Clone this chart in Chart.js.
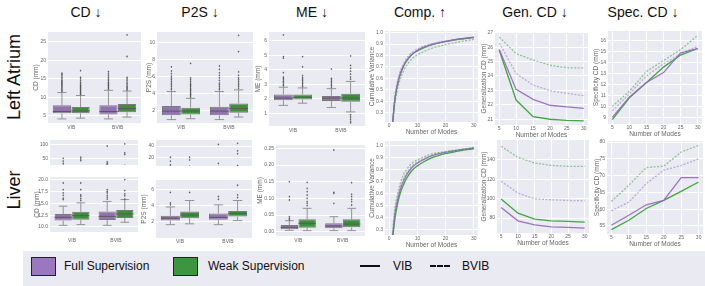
<!DOCTYPE html>
<html>
<head>
<meta charset="utf-8">
<script src="https://cdn.jsdelivr.net/npm/chart.js@4.4.0/dist/chart.umd.min.js"></script>
<style>
  body { margin: 0; width: 705px; height: 286px; overflow: hidden; position: relative; background: #fff;
         font-family: 'Liberation Sans', Arial, sans-serif; }
  canvas { position: absolute; }
  .title { position: absolute; top: 4px; font-size: 14px; transform: translateX(-50%); white-space: nowrap; color: #111; }
  .row { position: absolute; font-size: 18px; transform: translate(-50%, -50%) rotate(-90deg); white-space: nowrap; color: #111; }
  #legend { position: absolute; left: 23px; top: 251px; width: 682px; height: 35px; background: #eaeaf2; }
  #legend .sw { position: absolute; top: 6px; width: 23px; height: 17px; border: 1px solid #222; }
  #legend .lbl { position: absolute; top: 8px; font-size: 12px; color: #111; white-space: nowrap; }
  #legend .ln { position: absolute; top: 14px; width: 20px; border-top: 2px solid #111; }
  #legend .ln.dash { border-top: 2px dashed #111; }
</style>
</head>
<body>
<div class="title" style="left:86px">CD ↓</div>
<div class="title" style="left:200px">P2S ↓</div>
<div class="title" style="left:312px">ME ↓</div>
<div class="title" style="left:420px">Comp. ↑</div>
<div class="title" style="left:535px">Gen. CD ↓</div>
<div class="title" style="left:643px">Spec. CD ↓</div>
<div class="row" style="left:14px;top:77px">Left Atrium</div>
<div class="row" style="left:14px;top:190px">Liver</div>
<div id="legend">
  <div class="sw" style="left:8px;background:#9a78c0"></div><div class="lbl" style="left:41px">Full Supervision</div>
  <div class="sw" style="left:150px;background:#3d963d"></div><div class="lbl" style="left:185px">Weak Supervision</div>
  <div class="ln" style="left:337px"></div><div class="lbl" style="left:370px">VIB</div>
  <div class="ln dash" style="left:407px"></div><div class="lbl" style="left:439px">BVIB</div>
</div>
<script>
// ---- data ----
const boxCats = ['VIB', 'BVIB'];
const modes = [5, 10, 15, 20, 25, 30];
const compModes = [1, 2, 3, 4, 5, 6, 8, 10, 12, 15, 18, 21, 25, 30];

// box stats: [lower whisker, q1, median, q3, upper whisker] for VIB, BVIB
const cdLaFull = [[4.2, 5.7, 6.2, 7.9, 11.3], [4.2, 5.4, 6.2, 7.9, 11.9]];
const cdLaWeak = [[4.4, 5.7, 6.35, 7.4, 10.5], [4.7, 6.0, 7.0, 8.2, 11.7]];
const cdLaFullOut = [[11.6, 11.9, 12.2, 12.5, 12.8, 13.1, 13.4, 13.7, 14.0, 14.3, 14.6, 15.0, 15.4, 15.8, 16.2, 16.5],
                     [12.2, 12.5, 12.8, 13.1, 13.4, 13.8, 14.1, 14.5, 14.9, 15.3, 15.8, 16.3, 16.9]];
const cdLaWeakOut = [[10.8, 11.1, 11.4, 11.7, 12.0, 12.3, 12.6, 12.9, 13.2, 13.6, 14.0, 14.5, 15.0, 15.4, 17.2],
                     [12.0, 12.3, 12.6, 12.9, 13.3, 13.7, 14.1, 14.6, 15.0, 15.4, 21.0, 26.8]];

const p2sLaFull = [[0.9, 1.4, 1.9, 2.5, 4.2], [0.9, 1.4, 1.9, 2.4, 4.2]];
const p2sLaWeak = [[1.0, 1.5, 1.9, 2.3, 3.4], [1.2, 1.7, 2.2, 2.8, 4.4]];
const p2sLaFullOut = [[4.4, 4.6, 4.8, 5.0, 5.2, 5.4, 5.6, 5.8, 6.0, 6.3, 6.6, 7.1],
                      [4.4, 4.6, 4.8, 5.0, 5.2, 5.5, 5.8, 6.1, 6.4, 6.8, 7.2]];
const p2sLaWeakOut = [[3.55, 3.7, 3.85, 4.0, 4.15, 4.3, 4.45, 4.6, 4.75, 4.9, 5.05, 5.2, 5.4, 5.6, 5.8, 7.5],
                      [4.6, 4.8, 5.0, 5.2, 5.4, 5.6, 5.8, 6.1, 6.5, 8.9, 10.8]];

const meLaFull = [[1.55, 1.9, 2.05, 2.3, 2.8], [1.4, 1.85, 2.05, 2.2, 2.7]];
const meLaWeak = [[1.7, 1.95, 2.1, 2.3, 2.75], [1.1, 1.8, 2.05, 2.35, 3.2]];
const meLaFullOut = [[2.9, 3.0, 3.1, 3.2, 3.3, 3.4, 3.5, 3.8, 4.8, 4.9, 6.4],
                     [2.8, 2.9, 3.0, 3.1, 3.2, 3.3, 3.4, 4.05]];
const meLaWeakOut = [[2.85, 2.95, 3.05, 3.15, 3.25, 3.35, 3.45, 3.6, 4.2, 4.9],
                     [3.35, 3.5, 3.7, 3.9, 4.1, 4.3, 4.95, 0.9, 0.75, 0.6, 0.45, 0.35]];

const cdLvFull = [[10.35, 11.35, 12.05, 12.75, 14.4], [10.35, 11.5, 12.25, 13.3, 15.4]];
const cdLvWeak = [[10.5, 11.55, 12.4, 13.2, 15.1], [11.0, 11.9, 12.75, 13.6, 15.8]];
const cdLvFullOut = [[15.8, 16.1, 16.7, 17.2, 17.9, 19.3, 25, 32, 40, 50],
                     [15.9, 16.3, 16.7, 17.2, 17.5, 17.9, 27, 32, 37, 94]];
const cdLvWeakOut = [[15.6, 16.0, 16.5, 16.8, 17.9, 19.3, 42, 48, 54],
                     [15.9, 16.6, 17.0, 17.7, 20.0, 25, 64, 70, 102]];

const p2sLvFull = [[1.6, 2.1, 2.4, 2.7, 3.8], [1.6, 2.2, 2.5, 3.0, 4.06]];
const p2sLvWeak = [[1.7, 2.41, 2.8, 3.24, 4.6], [2.1, 2.6, 3.0, 3.3, 4.6]];
const p2sLvFullOut = [[4.06, 4.3, 5.6, 8.1, 14.3, 21], [4.76, 5.1, 10.5, 42.9]];
const p2sLvWeakOut = [[5.6, 16.4, 21], [4.97, 5.3, 6.5, 27.1, 31.9, 44.8]];

const meLvFull = [[0.004, 0.007, 0.013, 0.02, 0.033], [0.003, 0.01, 0.017, 0.025, 0.045]];
const meLvWeak = [[0.003, 0.012, 0.025, 0.037, 0.07], [0.003, 0.013, 0.023, 0.037, 0.07]];
const meLvFullOut = [[0.036, 0.04, 0.045, 0.095, 0.105, 0.15], [0.085, 0.115, 0.118, 0.245]];
const meLvWeakOut = [[0.078, 0.085, 0.09, 0.1, 0.11, 0.12, 0.13, 0.148], [0.08, 0.09, 0.097, 0.105, 0.112, 0.147]];

// cumulative variance (Comp.)
const compLaVibFull  = [0.15, 0.42, 0.56, 0.645, 0.705, 0.75, 0.81, 0.845, 0.87, 0.895, 0.912, 0.926, 0.942, 0.957];
const compLaVibWeak  = [0.15, 0.41, 0.55, 0.64, 0.70, 0.745, 0.805, 0.84, 0.865, 0.893, 0.912, 0.927, 0.944, 0.96];
const compLaBvibFull = [0.16, 0.44, 0.58, 0.67, 0.725, 0.77, 0.825, 0.857, 0.88, 0.903, 0.918, 0.93, 0.944, 0.955];
const compLaBvibWeak = [0.14, 0.38, 0.51, 0.60, 0.66, 0.705, 0.77, 0.805, 0.832, 0.862, 0.884, 0.90, 0.92, 0.94];
const compLvVibFull  = [0.19, 0.42, 0.55, 0.64, 0.70, 0.75, 0.815, 0.853, 0.88, 0.913, 0.932, 0.946, 0.963, 0.978];
const compLvVibWeak  = [0.18, 0.39, 0.52, 0.61, 0.67, 0.72, 0.79, 0.83, 0.86, 0.897, 0.92, 0.936, 0.955, 0.972];
const compLvBvibFull = [0.20, 0.44, 0.57, 0.66, 0.72, 0.765, 0.83, 0.862, 0.887, 0.918, 0.937, 0.95, 0.965, 0.98];
const compLvBvibWeak = [0.22, 0.48, 0.60, 0.69, 0.755, 0.795, 0.85, 0.88, 0.902, 0.928, 0.942, 0.952, 0.964, 0.978];

// generalization / specificity CD vs number of modes
const genLaVibFull  = [25.83, 23.07, 22.38, 21.97, 21.85, 21.76];
const genLaVibWeak  = [25.78, 22.33, 21.18, 21.0, 20.92, 20.89];
const genLaBvibFull = [26.29, 24.17, 23.37, 22.98, 22.8, 22.63];
const genLaBvibWeak = [26.7, 25.55, 25.1, 24.75, 24.56, 24.56];
const specLaVibFull  = [9.0, 10.85, 12.2, 13.1, 14.9, 15.3];
const specLaVibWeak  = [8.8, 10.8, 12.2, 13.6, 14.7, 15.3];
const specLaBvibFull = [9.6, 11.15, 12.8, 13.9, 14.8, 15.5];
const specLaBvibWeak = [10.0, 11.4, 13.2, 14.2, 15.2, 16.5];
const genLvVibFull  = [90.9, 77.1, 73.0, 70.9, 70.3, 69.6];
const genLvVibWeak  = [99.5, 85.0, 78.9, 77.1, 76.5, 75.8];
const genLvBvibFull = [117.7, 105.7, 99.8, 98.8, 98.1, 97.7];
const genLvBvibWeak = [153.8, 142.5, 136.6, 134.2, 133.2, 133.2];
const specLvVibFull  = [55.2, 58.2, 61.3, 62.6, 69.4, 69.4];
const specLvVibWeak  = [53.9, 56.7, 60.2, 62.6, 65.3, 68.1];
const specLvBvibFull = [59.5, 62.1, 67.6, 71.6, 73.0, 75.0];
const specLvBvibWeak = [62.3, 67.1, 72.4, 72.8, 77.0, 79.0];

// tick labels
const cdLaTicks = [5, 10, 15, 20, 25];
const p2sLaTicks = [2, 4, 6, 8, 10];
const meLaTicks = [1, 2, 3, 4, 5, 6];
const compYTicks = [0.3, 0.4, 0.5, 0.6, 0.7, 0.8, 0.9, 1.0];
const compXTicks = [0, 10, 20, 30];
const genLaTicks = [21, 22, 23, 24, 25, 26, 27];
const specLaTicks = [9, 10, 11, 12, 13, 14, 15, 16];
const cdLvTopTicks = [50, 100];
const cdLvTicks = [10, 12.5, 15, 17.5, 20];
const p2sLvTopTicks = [20, 40];
const p2sLvTicks = [2, 4, 6];
const meLvTicks = [0, 0.05, 0.1, 0.15, 0.2, 0.25];
const genLvTicks = [80, 100, 120, 140];
const specLvTicks = [55, 60, 65, 70, 75, 80];

// ---- styles ----
const purpleBox = '#9372b2';
const greenBox = '#3b913b';
const purpleLine = 'rgba(148,103,189,0.9)';
const greenLine = 'rgba(44,160,44,0.9)';
const purpleDot = 'rgba(148,103,189,0.5)';
const greenDot = 'rgba(44,160,44,0.5)';
const tickColor = '#666';

const bgPlugin = {
  id: 'bg',
  beforeDraw(chart) {
    const a = chart.chartArea, ctx = chart.ctx;
    ctx.save();
    ctx.fillStyle = '#eaeaf2';
    ctx.fillRect(a.left, a.top, a.right - a.left, a.bottom - a.top);
    ctx.restore();
  }
};

// whiskers, medians and outliers on top of the floating bars
const boxPlugin = {
  id: 'boxes',
  afterDatasetsDraw(chart) {
    const ctx = chart.ctx, a = chart.chartArea, ys = chart.scales.y;
    ctx.save();
    ctx.beginPath();
    ctx.rect(a.left, a.top, a.right - a.left, a.bottom - a.top);
    ctx.clip();
    chart.data.datasets.forEach((ds, di) => {
      chart.getDatasetMeta(di).data.forEach((bar, i) => {
        const [lo, q1, med, q3, hi] = ds.stats[i];
        const x = bar.x, hw = bar.width / 2;
        ctx.strokeStyle = '#939393';
        ctx.lineWidth = 1;
        ctx.beginPath();
        ctx.moveTo(x, ys.getPixelForValue(q3)); ctx.lineTo(x, ys.getPixelForValue(hi));
        ctx.moveTo(x, ys.getPixelForValue(q1)); ctx.lineTo(x, ys.getPixelForValue(lo));
        ctx.moveTo(x - hw / 2, ys.getPixelForValue(hi)); ctx.lineTo(x + hw / 2, ys.getPixelForValue(hi));
        ctx.moveTo(x - hw / 2, ys.getPixelForValue(lo)); ctx.lineTo(x + hw / 2, ys.getPixelForValue(lo));
        ctx.stroke();
        ctx.strokeStyle = '#5a5a5a';
        ctx.beginPath();
        ctx.moveTo(x - hw, ys.getPixelForValue(med)); ctx.lineTo(x + hw, ys.getPixelForValue(med));
        ctx.stroke();
        ctx.fillStyle = 'rgba(60,60,60,0.8)';
        ds.outliers[i].forEach(v => {
          const py = ys.getPixelForValue(v), r = 1.15;
          ctx.beginPath();
          ctx.moveTo(x, py - r); ctx.lineTo(x + r * 0.8, py); ctx.lineTo(x, py + r); ctx.lineTo(x - r * 0.8, py);
          ctx.closePath();
          ctx.fill();
        });
      });
    });
    ctx.restore();
  }
};

function yScale(min, max, ticks, title, dec, yw) {
  return {
    min: min, max: max,
    afterBuildTicks: s => { s.ticks = ticks.map(v => ({ value: v })); },
    afterFit: s => { s.width = yw; },
    ticks: { font: { size: 5 }, color: tickColor, padding: 2, callback: v => Number(v).toFixed(dec) },
    grid: { color: '#fff', lineWidth: 1, drawTicks: false },
    border: { display: false },
    title: { display: !!title, text: title, font: { size: 6.5 }, color: tickColor, padding: 0 }
  };
}

function panel(L, T, R, B, yw, xh, config) {
  const pad = 6;
  const c = document.createElement('canvas');
  c.width = R - L + yw + pad;
  c.height = B - T + xh + pad;
  c.style.left = (L - yw) + 'px';
  c.style.top = (T - pad) + 'px';
  document.body.appendChild(c);
  config.options.layout = { padding: { top: pad, right: pad, left: 0, bottom: 0 } };
  config.options.responsive = false;
  config.options.animation = false;
  config.options.devicePixelRatio = 1;
  config.options.plugins = { legend: { display: false }, tooltip: { enabled: false } };
  new Chart(c, config);
}

function boxPanel(L, T, R, B, yw, xh, xpad, full, weak, fullOut, weakOut, ymin, ymax, ticks, title, dec) {
  panel(L, T, R, B, yw, xh, {
    type: 'bar',
    data: {
      labels: boxCats,
      datasets: [
        { label: 'Full Supervision', data: full.map(s => [s[1], s[3]]), stats: full, outliers: fullOut,
          backgroundColor: purpleBox, borderColor: '#7a7a7a', borderWidth: 1, borderSkipped: false,
          categoryPercentage: 0.8, barPercentage: 0.98 },
        { label: 'Weak Supervision', data: weak.map(s => [s[1], s[3]]), stats: weak, outliers: weakOut,
          backgroundColor: greenBox, borderColor: '#7a7a7a', borderWidth: 1, borderSkipped: false,
          categoryPercentage: 0.8, barPercentage: 0.98 }
      ]
    },
    options: {
      scales: {
        x: {
          afterFit: s => { s.height = xh; },
          ticks: { display: xh > 0, font: { size: 5 }, color: tickColor, padding: xpad },
          grid: { display: false, drawTicks: false },
          border: { display: false }
        },
        y: yScale(ymin, ymax, ticks, title, dec, yw)
      }
    },
    plugins: [bgPlugin, boxPlugin]
  });
}

function linePanel(L, T, R, B, yw, xh, xs, series, xmin, xmax, xticks, ymin, ymax, yticks, ytitle, ydec, smooth) {
  panel(L, T, R, B, yw, xh, {
    type: 'line',
    data: {
      datasets: series.map(s => ({
        data: xs.map((x, i) => ({ x: x, y: s.vals[i] })),
        borderColor: s.color, borderWidth: 1.3, borderDash: s.dash ? [2, 1.5] : [],
        pointRadius: 0, fill: false,
        tension: 0, cubicInterpolationMode: smooth ? 'monotone' : 'default'
      }))
    },
    options: {
      scales: {
        x: {
          type: 'linear', min: xmin, max: xmax,
          afterBuildTicks: s => { s.ticks = xticks.map(v => ({ value: v })); },
          afterFit: s => { s.height = xh; },
          ticks: { font: { size: 5 }, color: tickColor, padding: 1 },
          grid: { color: '#fff', lineWidth: 1, drawTicks: false },
          border: { display: false },
          title: { display: true, text: 'Number of Modes', font: { size: 6.5 }, color: tickColor, padding: 0 }
        },
        y: yScale(ymin, ymax, yticks, ytitle, ydec, yw)
      }
    },
    plugins: [bgPlugin]
  });
}

// ---- Left Atrium row ----
boxPanel(48, 32, 141, 123, 16, 10, 2, cdLaFull, cdLaWeak, cdLaFullOut, cdLaWeakOut, 3.1, 27.6, cdLaTicks, 'CD (mm)', 0);
boxPanel(157, 32, 253, 123, 12, 10, 2, p2sLaFull, p2sLaWeak, p2sLaFullOut, p2sLaWeakOut, 0.5, 11.2, p2sLaTicks, 'P2S (mm)', 0);
boxPanel(269, 32, 365, 126, 15, 10, 2, meLaFull, meLaWeak, meLaFullOut, meLaWeakOut, 0.13, 6.6, meLaTicks, 'ME (mm)', 0);
linePanel(385, 31, 478, 122, 17, 14, compModes, [
  { vals: compLaBvibWeak, color: greenDot, dash: true },
  { vals: compLaBvibFull, color: purpleDot, dash: true },
  { vals: compLaVibFull, color: purpleLine },
  { vals: compLaVibWeak, color: greenLine }
], -1.5, 31.5, compXTicks, 0.218, 1.014, compYTicks, 'Cumulative Variance', 1, true);
linePanel(495, 32, 588, 125, 15, 14, modes, [
  { vals: genLaBvibWeak, color: greenDot, dash: true },
  { vals: genLaBvibFull, color: purpleDot, dash: true },
  { vals: genLaVibFull, color: purpleLine },
  { vals: genLaVibWeak, color: greenLine }
], 3.75, 31.25, modes, 20.6, 27.05, genLaTicks, 'Generalization CD (mm)', 0, false);
linePanel(608, 31, 702, 124, 16, 14, modes, [
  { vals: specLaBvibWeak, color: greenDot, dash: true },
  { vals: specLaBvibFull, color: purpleDot, dash: true },
  { vals: specLaVibFull, color: purpleLine },
  { vals: specLaVibWeak, color: greenLine }
], 3.75, 31.25, modes, 8.4, 16.9, specLaTicks, 'Specificity CD (mm)', 0, false);

// ---- Liver row (CD and P2S use a broken y axis) ----
boxPanel(50, 140, 138, 170, 17, 0, 0, cdLvFull, cdLvWeak, cdLvFullOut, cdLvWeakOut, 26, 116, cdLvTopTicks, '', 0);
boxPanel(50, 177, 138, 232, 17, 14, 6, cdLvFull, cdLvWeak, cdLvFullOut, cdLvWeakOut, 8.94, 20.57, cdLvTicks, 'CD (mm)', 1);
boxPanel(156, 140, 252, 171, 16, 0, 0, p2sLvFull, p2sLvWeak, p2sLvFullOut, p2sLvWeakOut, 6.1, 50.4, p2sLvTopTicks, '', 0);
boxPanel(156, 180, 252, 238, 16, 8, 1, p2sLvFull, p2sLvWeak, p2sLvFullOut, p2sLvWeakOut, -0.06, 7.15, p2sLvTicks, 'P2S (mm)', 0);
boxPanel(276, 145, 365, 236, 20, 10, 2, meLvFull, meLvWeak, meLvFullOut, meLvWeakOut, -0.013, 0.26, meLvTicks, 'ME (mm)', 2);
linePanel(385, 141, 478, 235, 17, 14, compModes, [
  { vals: compLvBvibWeak, color: greenDot, dash: true },
  { vals: compLvBvibFull, color: purpleDot, dash: true },
  { vals: compLvVibFull, color: purpleLine },
  { vals: compLvVibWeak, color: greenLine }
], -1.5, 31.5, compXTicks, 0.258, 1.036, compYTicks, 'Cumulative Variance', 1, true);
linePanel(497, 140, 589, 233, 17, 14, modes, [
  { vals: genLvBvibWeak, color: greenDot, dash: true },
  { vals: genLvBvibFull, color: purpleDot, dash: true },
  { vals: genLvVibFull, color: purpleLine },
  { vals: genLvVibWeak, color: greenLine }
], 3.75, 31.25, modes, 64.6, 160.3, genLvTicks, 'Generalization CD (mm)', 0, false);
linePanel(607, 141, 703, 234, 14, 14, modes, [
  { vals: specLvBvibWeak, color: greenDot, dash: true },
  { vals: specLvBvibFull, color: purpleDot, dash: true },
  { vals: specLvVibFull, color: purpleLine },
  { vals: specLvVibWeak, color: greenLine }
], 3.75, 31.25, modes, 52.6, 80.3, specLvTicks, 'Specificity CD (mm)', 0, false);
</script>
</body>
</html>
